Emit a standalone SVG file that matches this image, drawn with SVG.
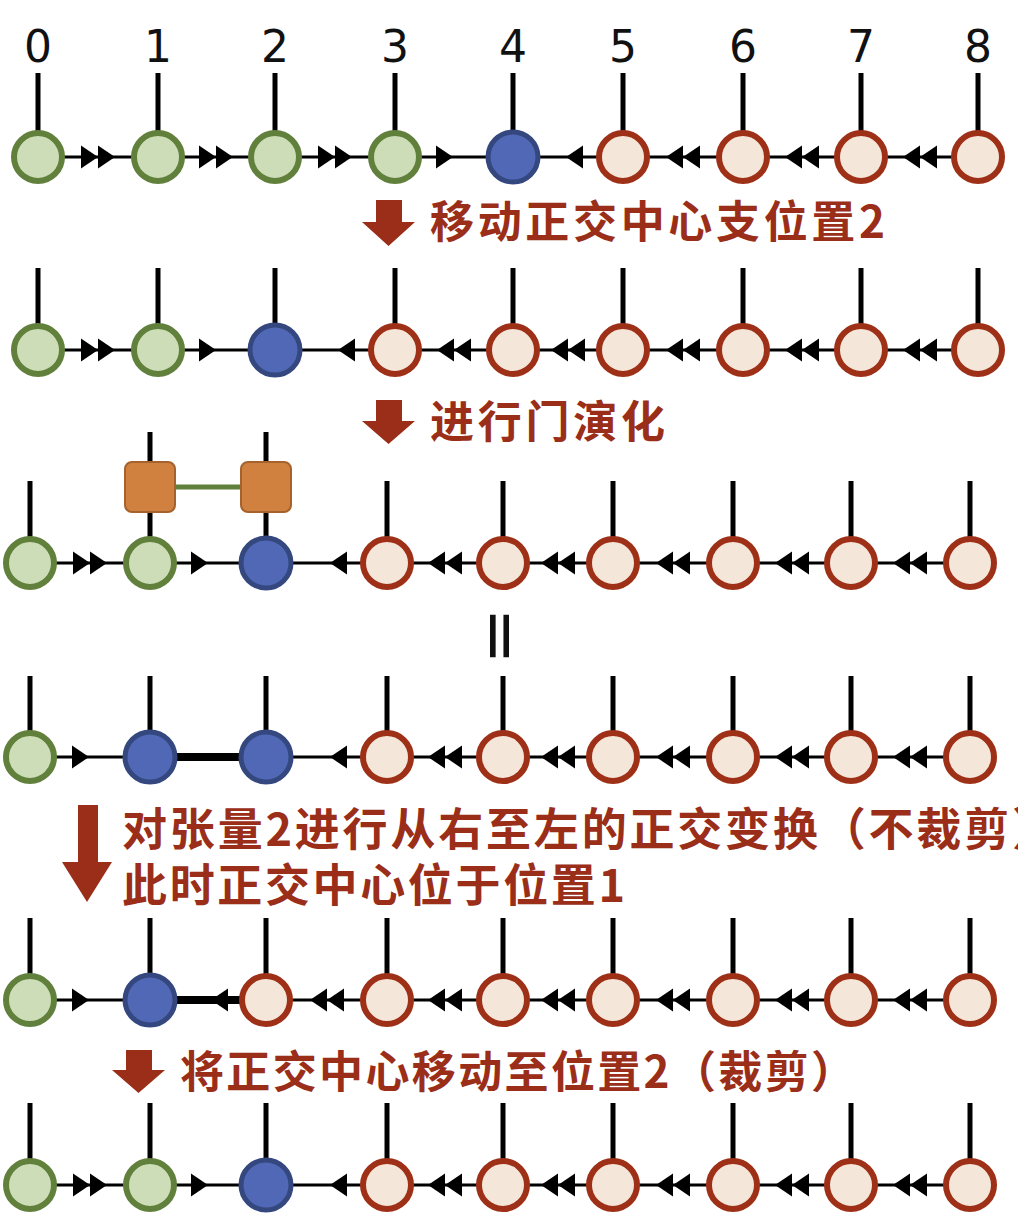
<svg xmlns="http://www.w3.org/2000/svg" xmlns:xlink="http://www.w3.org/1999/xlink" width="1018" height="1222" viewBox="0 0 1018 1222">
<style>
.stem{stroke:#000;stroke-width:5}
.bond{stroke:#000;stroke-width:3}
.thick{stroke:#000;stroke-width:8}
.g{fill:#CDDDB7;stroke:#60803C;stroke-width:6}
.b{fill:#5068B5;stroke:#34487F;stroke-width:5}
.r{fill:#F4E6D8;stroke:#9E3018;stroke-width:6}
.gate{fill:#D0813F;stroke:#A5622C;stroke-width:2}
.glink{stroke:#60803C;stroke-width:5}
.lbl{font-family:"Noto Sans CJK SC","Noto Sans CJK JP",sans-serif;font-weight:bold;font-size:44px;fill:#9A2E19}
.num{font-family:"DejaVu Sans",sans-serif;font-size:44px;fill:#111;text-anchor:middle}
.bigarrow{fill:#9A2E19}
</style>
<defs>
<path id="ar" d="M0,-11.5 L17,0 L0,11.5 Z" fill="#000"/>
<path id="al" d="M0,-11.5 L-17,0 L0,11.5 Z" fill="#000"/>
</defs>
<rect width="1018" height="1222" fill="#fff"/>

<g id="index-labels">
<text class="num" x="38" y="62">0</text>
<text class="num" x="158" y="62">1</text>
<text class="num" x="275" y="62">2</text>
<text class="num" x="395" y="62">3</text>
<text class="num" x="513" y="62">4</text>
<text class="num" x="623" y="62">5</text>
<text class="num" x="743" y="62">6</text>
<text class="num" x="861" y="62">7</text>
<text class="num" x="978" y="62">8</text>
</g>

<g id="connectors">
<!-- row 1 y=157 -->
<line class="bond" x1="38" y1="157" x2="978" y2="157"/>
<use xlink:href="#ar" x="81" y="157"/><use xlink:href="#ar" x="98" y="157"/>
<use xlink:href="#ar" x="199" y="157"/><use xlink:href="#ar" x="216" y="157"/>
<use xlink:href="#ar" x="318" y="157"/><use xlink:href="#ar" x="335" y="157"/>
<use xlink:href="#ar" x="436" y="157"/>
<use xlink:href="#al" x="583" y="157"/>
<use xlink:href="#al" x="683" y="157"/><use xlink:href="#al" x="700" y="157"/>
<use xlink:href="#al" x="802" y="157"/><use xlink:href="#al" x="819" y="157"/>
<use xlink:href="#al" x="920" y="157"/><use xlink:href="#al" x="937" y="157"/>
<!-- row 2 y=350 -->
<line class="bond" x1="38" y1="350" x2="978" y2="350"/>
<use xlink:href="#ar" x="81" y="350"/><use xlink:href="#ar" x="98" y="350"/>
<use xlink:href="#ar" x="199" y="350"/>
<use xlink:href="#al" x="355" y="350"/>
<use xlink:href="#al" x="454" y="350"/><use xlink:href="#al" x="471" y="350"/>
<use xlink:href="#al" x="568" y="350"/><use xlink:href="#al" x="585" y="350"/>
<use xlink:href="#al" x="683" y="350"/><use xlink:href="#al" x="700" y="350"/>
<use xlink:href="#al" x="802" y="350"/><use xlink:href="#al" x="819" y="350"/>
<use xlink:href="#al" x="920" y="350"/><use xlink:href="#al" x="937" y="350"/>
<!-- row 3 y=563 -->
<line class="bond" x1="30" y1="563" x2="970" y2="563"/>
<use xlink:href="#ar" x="73" y="563"/><use xlink:href="#ar" x="90" y="563"/>
<use xlink:href="#ar" x="191" y="563"/>
<use xlink:href="#al" x="347" y="563"/>
<use xlink:href="#al" x="445" y="563"/><use xlink:href="#al" x="462" y="563"/>
<use xlink:href="#al" x="558" y="563"/><use xlink:href="#al" x="575" y="563"/>
<use xlink:href="#al" x="673" y="563"/><use xlink:href="#al" x="690" y="563"/>
<use xlink:href="#al" x="792" y="563"/><use xlink:href="#al" x="809" y="563"/>
<use xlink:href="#al" x="910" y="563"/><use xlink:href="#al" x="927" y="563"/>
<line class="glink" x1="175" y1="487" x2="241" y2="487"/>
<!-- row 4 y=757 -->
<line class="bond" x1="30" y1="757" x2="970" y2="757"/>
<line class="thick" x1="150" y1="757" x2="266" y2="757"/>
<use xlink:href="#ar" x="72" y="757"/>
<use xlink:href="#al" x="347" y="757"/>
<use xlink:href="#al" x="445" y="757"/><use xlink:href="#al" x="462" y="757"/>
<use xlink:href="#al" x="558" y="757"/><use xlink:href="#al" x="575" y="757"/>
<use xlink:href="#al" x="673" y="757"/><use xlink:href="#al" x="690" y="757"/>
<use xlink:href="#al" x="792" y="757"/><use xlink:href="#al" x="809" y="757"/>
<use xlink:href="#al" x="910" y="757"/><use xlink:href="#al" x="927" y="757"/>
<!-- row 5 y=1000 -->
<line class="bond" x1="30" y1="1000" x2="970" y2="1000"/>
<line class="thick" x1="150" y1="1000" x2="266" y2="1000"/>
<use xlink:href="#ar" x="72" y="1000"/>
<use xlink:href="#al" x="228" y="1000"/>
<use xlink:href="#al" x="327" y="1000"/><use xlink:href="#al" x="344" y="1000"/>
<use xlink:href="#al" x="445" y="1000"/><use xlink:href="#al" x="462" y="1000"/>
<use xlink:href="#al" x="558" y="1000"/><use xlink:href="#al" x="575" y="1000"/>
<use xlink:href="#al" x="673" y="1000"/><use xlink:href="#al" x="690" y="1000"/>
<use xlink:href="#al" x="792" y="1000"/><use xlink:href="#al" x="809" y="1000"/>
<use xlink:href="#al" x="910" y="1000"/><use xlink:href="#al" x="927" y="1000"/>
<!-- row 6 y=1185 -->
<line class="bond" x1="30" y1="1185" x2="970" y2="1185"/>
<use xlink:href="#ar" x="73" y="1185"/><use xlink:href="#ar" x="90" y="1185"/>
<use xlink:href="#ar" x="191" y="1185"/>
<use xlink:href="#al" x="347" y="1185"/>
<use xlink:href="#al" x="445" y="1185"/><use xlink:href="#al" x="462" y="1185"/>
<use xlink:href="#al" x="558" y="1185"/><use xlink:href="#al" x="575" y="1185"/>
<use xlink:href="#al" x="673" y="1185"/><use xlink:href="#al" x="690" y="1185"/>
<use xlink:href="#al" x="792" y="1185"/><use xlink:href="#al" x="809" y="1185"/>
<use xlink:href="#al" x="910" y="1185"/><use xlink:href="#al" x="927" y="1185"/>
</g>

<!-- row 1 nodes -->
<g id="r1n0"><line class="stem" x1="38" y1="73" x2="38" y2="157"/><circle class="g" cx="38" cy="157" r="24"/></g>
<g id="r1n1"><line class="stem" x1="158" y1="73" x2="158" y2="157"/><circle class="g" cx="158" cy="157" r="24"/></g>
<g id="r1n2"><line class="stem" x1="275" y1="73" x2="275" y2="157"/><circle class="g" cx="275" cy="157" r="24"/></g>
<g id="r1n3"><line class="stem" x1="395" y1="73" x2="395" y2="157"/><circle class="g" cx="395" cy="157" r="24"/></g>
<g id="r1n4"><line class="stem" x1="513" y1="73" x2="513" y2="157"/><circle class="b" cx="513" cy="157" r="25"/></g>
<g id="r1n5"><line class="stem" x1="623" y1="73" x2="623" y2="157"/><circle class="r" cx="623" cy="157" r="24"/></g>
<g id="r1n6"><line class="stem" x1="743" y1="73" x2="743" y2="157"/><circle class="r" cx="743" cy="157" r="24"/></g>
<g id="r1n7"><line class="stem" x1="861" y1="73" x2="861" y2="157"/><circle class="r" cx="861" cy="157" r="24"/></g>
<g id="r1n8"><line class="stem" x1="978" y1="73" x2="978" y2="157"/><circle class="r" cx="978" cy="157" r="24"/></g>

<g id="step1">
<polygon class="bigarrow" points="376,200 402,200 402,222 415,222 388.5,246 362,222 376,222"/>
<text class="lbl" x="430" y="238" textLength="455">移动正交中心支位置2</text>
</g>

<!-- row 2 nodes -->
<g id="r2n0"><line class="stem" x1="38" y1="268" x2="38" y2="350"/><circle class="g" cx="38" cy="350" r="24"/></g>
<g id="r2n1"><line class="stem" x1="158" y1="268" x2="158" y2="350"/><circle class="g" cx="158" cy="350" r="24"/></g>
<g id="r2n2"><line class="stem" x1="275" y1="268" x2="275" y2="350"/><circle class="b" cx="275" cy="350" r="25"/></g>
<g id="r2n3"><line class="stem" x1="395" y1="268" x2="395" y2="350"/><circle class="r" cx="395" cy="350" r="24"/></g>
<g id="r2n4"><line class="stem" x1="513" y1="268" x2="513" y2="350"/><circle class="r" cx="513" cy="350" r="24"/></g>
<g id="r2n5"><line class="stem" x1="623" y1="268" x2="623" y2="350"/><circle class="r" cx="623" cy="350" r="24"/></g>
<g id="r2n6"><line class="stem" x1="743" y1="268" x2="743" y2="350"/><circle class="r" cx="743" cy="350" r="24"/></g>
<g id="r2n7"><line class="stem" x1="861" y1="268" x2="861" y2="350"/><circle class="r" cx="861" cy="350" r="24"/></g>
<g id="r2n8"><line class="stem" x1="978" y1="268" x2="978" y2="350"/><circle class="r" cx="978" cy="350" r="24"/></g>

<g id="step2">
<polygon class="bigarrow" points="376,400 402,400 402,421 415,421 388.5,444 362,421 376,421"/>
<text class="lbl" x="430" y="438" textLength="235">进行门演化</text>
</g>

<!-- row 3 nodes -->
<g id="r3n0"><line class="stem" x1="30" y1="481" x2="30" y2="563"/><circle class="g" cx="30" cy="563" r="24"/></g>
<g id="r3n1"><line class="stem" x1="150" y1="432" x2="150" y2="563"/><circle class="g" cx="150" cy="563" r="24"/></g>
<g id="r3n2"><line class="stem" x1="266" y1="432" x2="266" y2="563"/><circle class="b" cx="266" cy="563" r="25"/></g>
<g id="r3n3"><line class="stem" x1="387" y1="481" x2="387" y2="563"/><circle class="r" cx="387" cy="563" r="24"/></g>
<g id="r3n4"><line class="stem" x1="503" y1="481" x2="503" y2="563"/><circle class="r" cx="503" cy="563" r="24"/></g>
<g id="r3n5"><line class="stem" x1="613" y1="481" x2="613" y2="563"/><circle class="r" cx="613" cy="563" r="24"/></g>
<g id="r3n6"><line class="stem" x1="733" y1="481" x2="733" y2="563"/><circle class="r" cx="733" cy="563" r="24"/></g>
<g id="r3n7"><line class="stem" x1="851" y1="481" x2="851" y2="563"/><circle class="r" cx="851" cy="563" r="24"/></g>
<g id="r3n8"><line class="stem" x1="970" y1="481" x2="970" y2="563"/><circle class="r" cx="970" cy="563" r="24"/></g>
<g id="gate1"><rect class="gate" x="125" y="462" width="50" height="50" rx="7"/></g>
<g id="gate2"><rect class="gate" x="241" y="462" width="50" height="50" rx="7"/></g>

<g id="equals">
<text x="503" y="661" transform="rotate(90 503 636)" style="font-family:'DejaVu Sans',sans-serif;font-size:68px;fill:#111;text-anchor:middle">=</text>
</g>

<!-- row 4 nodes -->
<g id="r4n0"><line class="stem" x1="30" y1="676" x2="30" y2="757"/><circle class="g" cx="30" cy="757" r="24"/></g>
<g id="r4n1"><line class="stem" x1="150" y1="676" x2="150" y2="757"/><circle class="b" cx="150" cy="757" r="25"/></g>
<g id="r4n2"><line class="stem" x1="266" y1="676" x2="266" y2="757"/><circle class="b" cx="266" cy="757" r="25"/></g>
<g id="r4n3"><line class="stem" x1="387" y1="676" x2="387" y2="757"/><circle class="r" cx="387" cy="757" r="24"/></g>
<g id="r4n4"><line class="stem" x1="503" y1="676" x2="503" y2="757"/><circle class="r" cx="503" cy="757" r="24"/></g>
<g id="r4n5"><line class="stem" x1="613" y1="676" x2="613" y2="757"/><circle class="r" cx="613" cy="757" r="24"/></g>
<g id="r4n6"><line class="stem" x1="733" y1="676" x2="733" y2="757"/><circle class="r" cx="733" cy="757" r="24"/></g>
<g id="r4n7"><line class="stem" x1="851" y1="676" x2="851" y2="757"/><circle class="r" cx="851" cy="757" r="24"/></g>
<g id="r4n8"><line class="stem" x1="970" y1="676" x2="970" y2="757"/><circle class="r" cx="970" cy="757" r="24"/></g>

<g id="step3">
<polygon class="bigarrow" points="78,805 98,805 98,862 112,862 87,902 62,862 78,862"/>
<text class="lbl" x="122" y="846" style="font-size:45px" textLength="935">对张量2进行从右至左的正交变换（不裁剪）</text>
<text class="lbl" x="122" y="902" style="font-size:45px" textLength="503">此时正交中心位于位置1</text>
</g>

<!-- row 5 nodes -->
<g id="r5n0"><line class="stem" x1="30" y1="918" x2="30" y2="1000"/><circle class="g" cx="30" cy="1000" r="24"/></g>
<g id="r5n1"><line class="stem" x1="150" y1="918" x2="150" y2="1000"/><circle class="b" cx="150" cy="1000" r="25"/></g>
<g id="r5n2"><line class="stem" x1="266" y1="918" x2="266" y2="1000"/><circle class="r" cx="266" cy="1000" r="24"/></g>
<g id="r5n3"><line class="stem" x1="387" y1="918" x2="387" y2="1000"/><circle class="r" cx="387" cy="1000" r="24"/></g>
<g id="r5n4"><line class="stem" x1="503" y1="918" x2="503" y2="1000"/><circle class="r" cx="503" cy="1000" r="24"/></g>
<g id="r5n5"><line class="stem" x1="613" y1="918" x2="613" y2="1000"/><circle class="r" cx="613" cy="1000" r="24"/></g>
<g id="r5n6"><line class="stem" x1="733" y1="918" x2="733" y2="1000"/><circle class="r" cx="733" cy="1000" r="24"/></g>
<g id="r5n7"><line class="stem" x1="851" y1="918" x2="851" y2="1000"/><circle class="r" cx="851" cy="1000" r="24"/></g>
<g id="r5n8"><line class="stem" x1="970" y1="918" x2="970" y2="1000"/><circle class="r" cx="970" cy="1000" r="24"/></g>

<g id="step4">
<polygon class="bigarrow" points="126,1050 152,1050 152,1070 165,1070 138.5,1093 112,1070 126,1070"/>
<text class="lbl" x="180" y="1088" textLength="675">将正交中心移动至位置2（裁剪）</text>
</g>

<!-- row 6 nodes -->
<g id="r6n0"><line class="stem" x1="30" y1="1103" x2="30" y2="1185"/><circle class="g" cx="30" cy="1185" r="24"/></g>
<g id="r6n1"><line class="stem" x1="150" y1="1103" x2="150" y2="1185"/><circle class="g" cx="150" cy="1185" r="24"/></g>
<g id="r6n2"><line class="stem" x1="266" y1="1103" x2="266" y2="1185"/><circle class="b" cx="266" cy="1185" r="25"/></g>
<g id="r6n3"><line class="stem" x1="387" y1="1103" x2="387" y2="1185"/><circle class="r" cx="387" cy="1185" r="24"/></g>
<g id="r6n4"><line class="stem" x1="503" y1="1103" x2="503" y2="1185"/><circle class="r" cx="503" cy="1185" r="24"/></g>
<g id="r6n5"><line class="stem" x1="613" y1="1103" x2="613" y2="1185"/><circle class="r" cx="613" cy="1185" r="24"/></g>
<g id="r6n6"><line class="stem" x1="733" y1="1103" x2="733" y2="1185"/><circle class="r" cx="733" cy="1185" r="24"/></g>
<g id="r6n7"><line class="stem" x1="851" y1="1103" x2="851" y2="1185"/><circle class="r" cx="851" cy="1185" r="24"/></g>
<g id="r6n8"><line class="stem" x1="970" y1="1103" x2="970" y2="1185"/><circle class="r" cx="970" cy="1185" r="24"/></g>
</svg>
